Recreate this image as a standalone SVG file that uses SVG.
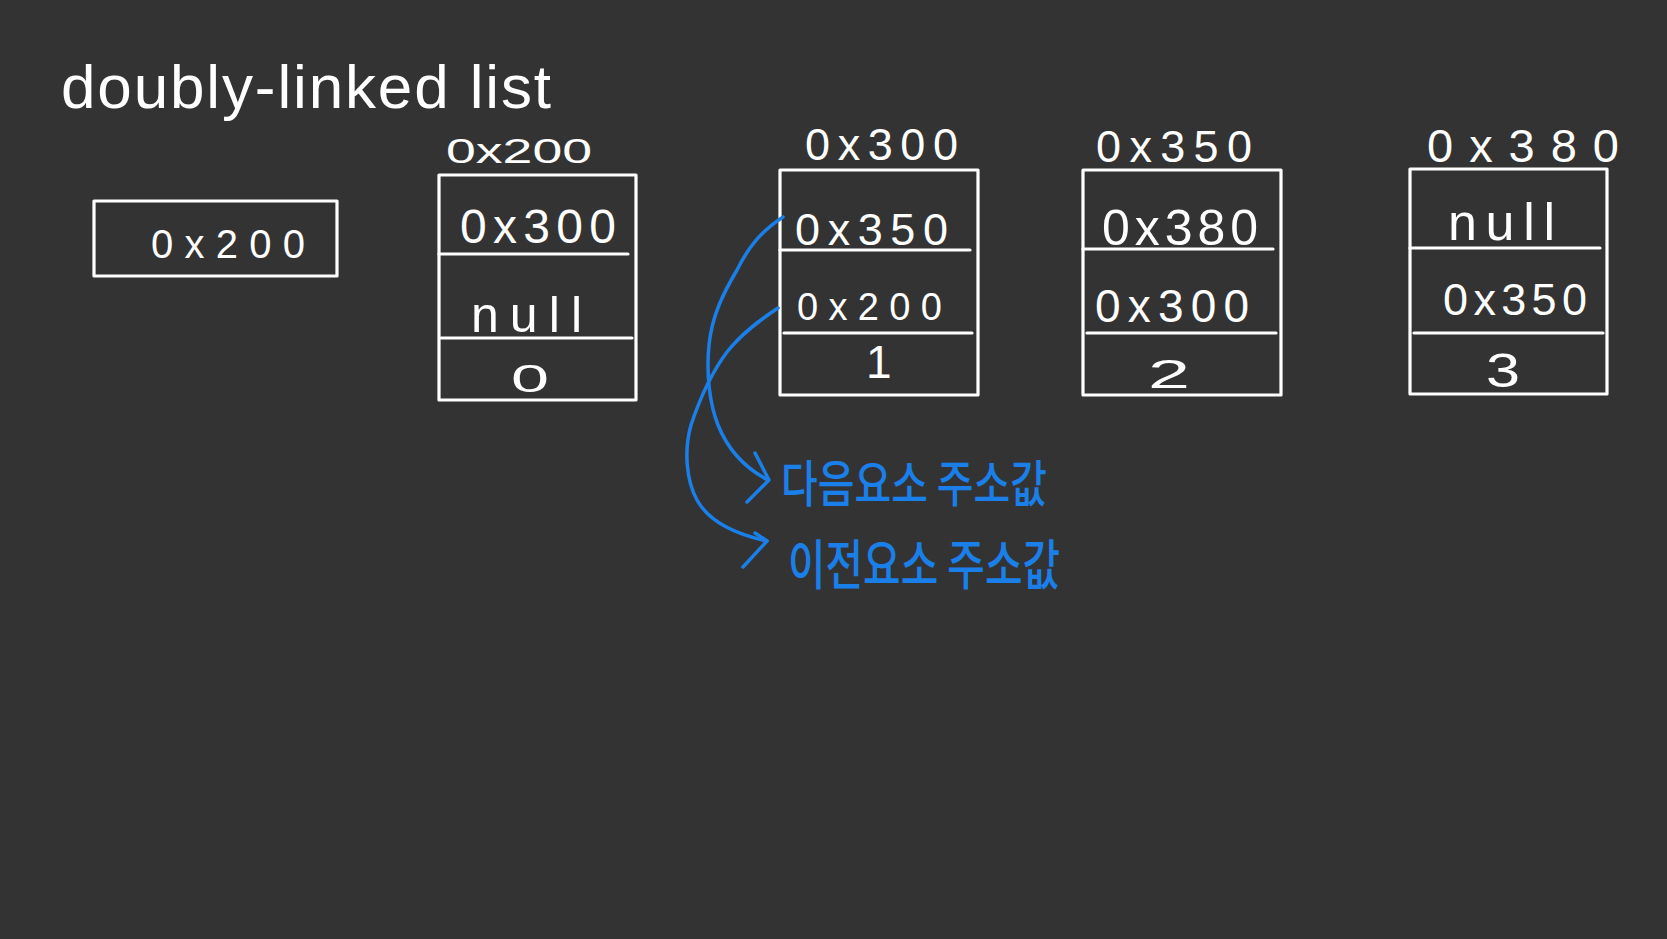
<svg xmlns="http://www.w3.org/2000/svg" width="1667" height="939" viewBox="0 0 1667 939">
<style>
.box{fill:none;stroke:#ffffff;stroke-width:3.2;stroke-linecap:round;stroke-linejoin:round}
.t{fill:#ffffff;font-family:"Liberation Sans","DejaVu Sans",sans-serif;}
.k{fill:#1a7fe8;font-family:"Noto Sans CJK KR","Noto Sans",sans-serif;font-weight:500}
.c{fill:none;stroke:#1a7fe8;stroke-width:3.5;stroke-linecap:round;stroke-linejoin:round}
</style>
<rect width="1667" height="939" fill="#333333"/>
<g id="title"><text class="t" x="61" y="108" font-size="62" textLength="490" lengthAdjust="spacing">doubly-linked list</text></g>
<g id="head">
<rect class="box" x="94" y="201" width="243" height="75"/>
<text class="t" x="151" y="258" font-size="40" textLength="154" lengthAdjust="spacing">0x200</text>
</g>
<g id="node0">
<text class="t" x="446" y="163" font-size="35" textLength="146" lengthAdjust="spacingAndGlyphs">0x200</text>
<rect class="box" x="439" y="175" width="197" height="225"/>
<line class="box" x1="439" y1="254" x2="628" y2="254"/>
<line class="box" x1="441" y1="338" x2="632" y2="338"/>
<text class="t" x="460" y="243" font-size="48" textLength="156" lengthAdjust="spacing">0x300</text>
<text class="t" x="471" y="332" font-size="50" textLength="111" lengthAdjust="spacing">null</text>
<text class="t" x="511" y="392" font-size="38" textLength="38" lengthAdjust="spacingAndGlyphs">0</text>
</g>
<g id="node1">
<text class="t" x="805" y="160" font-size="45" textLength="153" lengthAdjust="spacing">0x300</text>
<rect class="box" x="780" y="170" width="198" height="225"/>
<line class="box" x1="780" y1="250" x2="970" y2="250"/>
<line class="box" x1="784" y1="333" x2="972" y2="333"/>
<text class="t" x="795" y="245" font-size="45" textLength="153" lengthAdjust="spacing">0x350</text>
<text class="t" x="797" y="320" font-size="38" textLength="145" lengthAdjust="spacing">0x200</text>
<text class="t" x="866" y="378" font-size="46">1</text>
</g>
<g id="node2">
<text class="t" x="1096" y="162" font-size="45" textLength="156" lengthAdjust="spacing">0x350</text>
<rect class="box" x="1083" y="170" width="198" height="225"/>
<line class="box" x1="1083" y1="249" x2="1273" y2="249"/>
<line class="box" x1="1087" y1="333" x2="1276" y2="333"/>
<text class="t" x="1102" y="245" font-size="50" textLength="156" lengthAdjust="spacing">0x380</text>
<text class="t" x="1095" y="322" font-size="46" textLength="154" lengthAdjust="spacing">0x300</text>
<text class="t" x="1148" y="388" font-size="40" textLength="42" lengthAdjust="spacingAndGlyphs">2</text>
</g>
<g id="node3">
<text class="t" x="1427" y="162" font-size="47" textLength="192" lengthAdjust="spacing">0x380</text>
<rect class="box" x="1410" y="169" width="197" height="225"/>
<line class="box" x1="1410" y1="248" x2="1600" y2="248"/>
<line class="box" x1="1414" y1="333" x2="1603" y2="333"/>
<text class="t" x="1448" y="240" font-size="52" textLength="107" lengthAdjust="spacing">null</text>
<text class="t" x="1443" y="315" font-size="45" textLength="144" lengthAdjust="spacing">0x350</text>
<text class="t" x="1486" y="387" font-size="48" textLength="34" lengthAdjust="spacingAndGlyphs">3</text>
</g>
<g id="connectors">
<path class="c" d="M783 217 C760 232 748 248 737 270 C724 292 712 315 709 345 C706 375 710 405 718 425 C728 450 745 468 768 480"/>
<path class="c" d="M755 453 L769 480 L747 502"/>
<path class="c" d="M778 308 C760 320 742 333 727 352 C712 372 700 398 691 425 C684 450 686 480 697 500 C708 520 730 533 767 541"/>
<path class="c" d="M755 533 L767 541 L743 567"/>
</g>
<g id="label-next"><text class="k" x="781" y="502" font-size="50" textLength="266" lengthAdjust="spacingAndGlyphs">다음요소 주소값</text></g>
<g id="label-prev"><text class="k" x="788" y="585" font-size="54" textLength="272" lengthAdjust="spacingAndGlyphs">이전요소 주소값</text></g>
</svg>
